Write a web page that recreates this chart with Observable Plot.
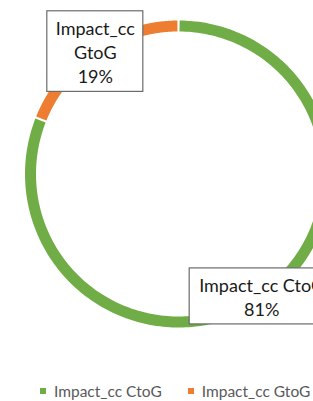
<!DOCTYPE html>
<html>
<head>
<meta charset="utf-8">
<script src="https://cdn.jsdelivr.net/npm/d3@7"></script>
<script src="https://cdn.jsdelivr.net/npm/@observablehq/plot@0.6"></script>
<style>
  html, body { margin: 0; padding: 0; background: #fff; }
  #wrap { position: relative; width: 313px; height: 401px; overflow: hidden; font-family: Lato, "Open Sans", sans-serif; }
  #legend { position: absolute; left: 0; top: 382px; width: 420px; display: flex; align-items: center; font-size: 15.5px; color: #595959; white-space: nowrap; }
  .item { display: flex; align-items: center; }
  .sw { width: 6px; height: 6px; display: inline-block; margin-right: 8px; }
</style>
</head>
<body>
<div id="wrap"></div>
<script>
// Data
const categories = ["Impact_cc CtoG", "Impact_cc GtoG"];
const shares = [81, 19];
const labelLines = ["Impact_cc CtoG\n81%", "Impact_cc\nGtoG\n19%"];
const colors = ["#70AD47", "#ED7D31"];

// Layout
const W = 313, H = 370;
const cx = 178, cy = 173.5, R = 148;   // ring centre (px) and ring radius (px)
const ringWidth = 11;
const boxHalf = [[72, 28], [48, 40.3]]; // label box half sizes in px

const total = d3.sum(shares);
const gapAngle = 0.0072;
const arcPts = [];
const labels = [];
let acc = 0;
shares.forEach((v, i) => {
  const a0 = acc / total * 2 * Math.PI;
  const a1 = (acc + v) / total * 2 * Math.PI;
  const n = 240;
  for (let k = 0; k <= n; k++) {
    const a = a0 + gapAngle + (a1 - a0 - 2 * gapAngle) * k / n;
    arcPts.push({cat: categories[i], x: Math.sin(a), y: Math.cos(a)});
  }
  const am = (a0 + a1) / 2;
  const mx = Math.sin(am), my = Math.cos(am);
  labels.push({
    cat: categories[i], text: labelLines[i], mx, my,
    x1: mx - boxHalf[i][0] / R, x2: mx + boxHalf[i][0] / R,
    y1: my - boxHalf[i][1] / R, y2: my + boxHalf[i][1] / R
  });
  acc += v;
});

const chart = Plot.plot({
  width: W, height: H,
  margin: 0,
  x: {domain: [-cx / R, (W - cx) / R], axis: null},
  y: {domain: [-(H - cy) / R, cy / R], axis: null},
  color: {domain: categories, range: colors},
  style: {fontFamily: "Lato, 'Open Sans', sans-serif", background: "#fff"},
  marks: [
    Plot.line(arcPts, {x: "x", y: "y", z: "cat", stroke: "cat", strokeWidth: ringWidth, strokeLinecap: "butt", strokeLinejoin: "round"}),
    Plot.rect(labels, {x1: "x1", x2: "x2", y1: "y1", y2: "y2", fill: "#fff", stroke: "#6b6b6b", strokeWidth: 1.2}),
    Plot.text(labels, {x: "mx", y: "my", text: "text", fontSize: 18, lineHeight: 1.33, fill: "#1a1a1a"})
  ]
});

const wrap = document.getElementById("wrap");
wrap.appendChild(chart);

const legend = document.createElement("div");
legend.id = "legend";
categories.forEach((c, i) => {
  const it = document.createElement("span");
  it.className = "item";
  it.style.marginLeft = i === 0 ? "40px" : "26px";
  const sw = document.createElement("span");
  sw.className = "sw";
  sw.style.background = colors[i];
  it.appendChild(sw);
  it.appendChild(document.createTextNode(c));
  legend.appendChild(it);
});
wrap.appendChild(legend);
</script>
</body>
</html>
